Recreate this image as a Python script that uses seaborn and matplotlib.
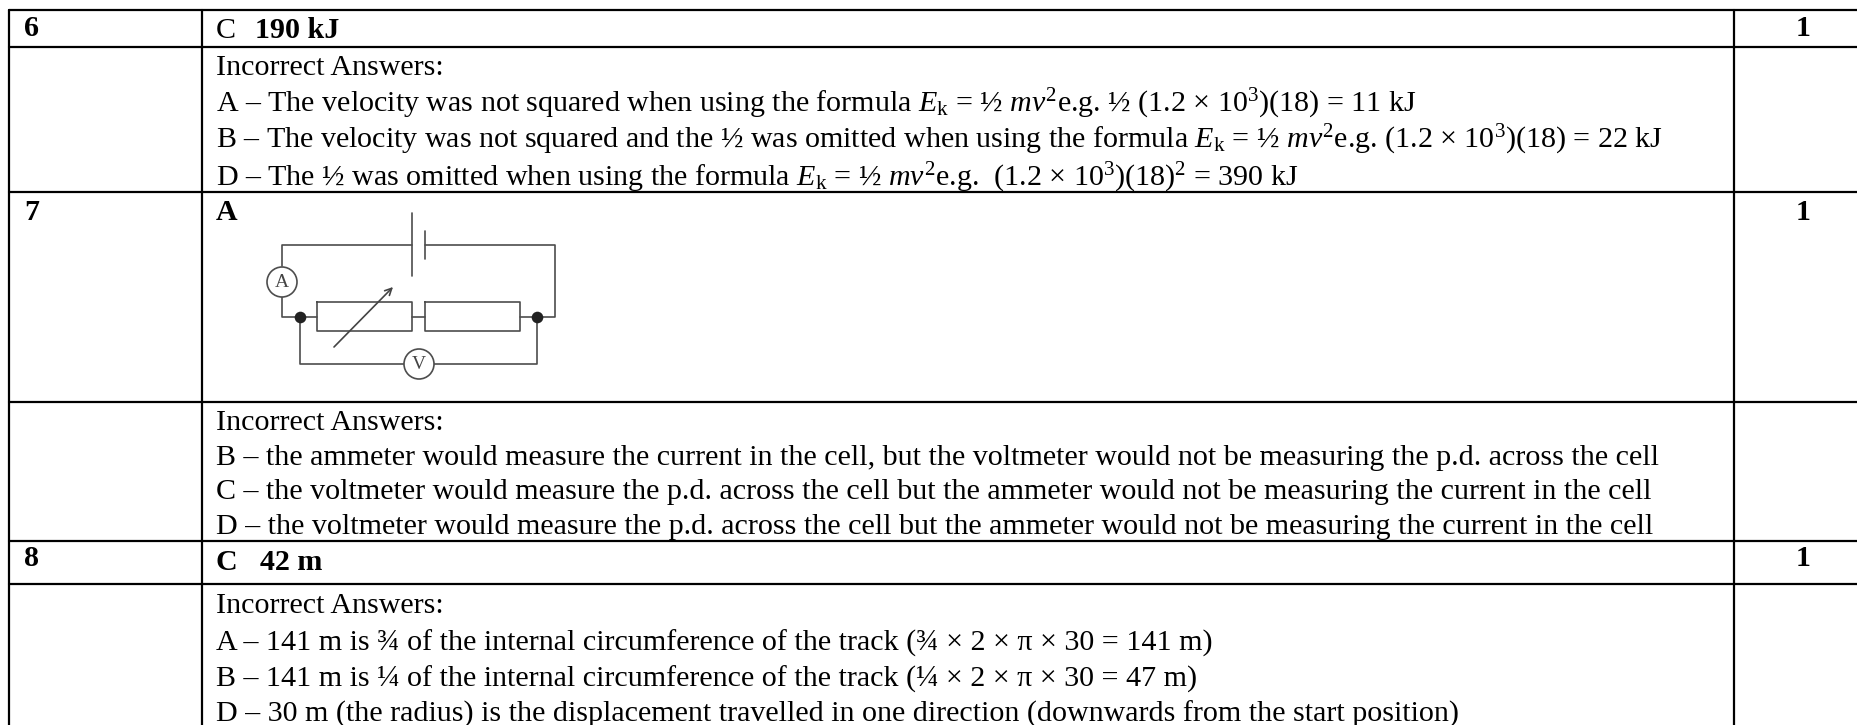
import pandas as pd
import seaborn as sns
import matplotlib.pyplot as plt
from matplotlib.patches import Circle

# table rules and text rows, all in image pixels
row_y = [10, 47, 192, 402, 541, 584]
col_x = [9, 202, 1734]
fig_w, fig_h = 1858, 725

question_labels = ['6', '7', '8']
question_y = [36, 220, 566]
mark_y = [36, 220, 566]
mark_labels = ['1', '1', '1']

E = r'$\mathit{E}_{\mathrm{k}}$'
answer_lines = [
    (38, 'C'),
    (75, 'Incorrect Answers:'),
    (112, 'A – The velocity was not squared when using the formula ' + E + r' = ½ $\mathit{mv}^{2}$e.g. ½ (1.2 × 10$^{3}$)(18) = 11 kJ'),
    (148, 'B – The velocity was not squared and the ½ was omitted when using the formula ' + E + r' = ½ $\mathit{mv}^{2}$e.g. (1.2 × 10$^{3}$)(18) = 22 kJ'),
    (186, 'D – The ½ was omitted when using the formula ' + E + r' = ½ $\mathit{mv}^{2}$e.g.  (1.2 × 10$^{3}$)(18)$^{2}$ = 390 kJ'),
    (430, 'Incorrect Answers:'),
    (465, 'B – the ammeter would measure the current in the cell, but the voltmeter would not be measuring the p.d. across the cell'),
    (499, 'C – the voltmeter would measure the p.d. across the cell but the ammeter would not be measuring the current in the cell'),
    (534, 'D – the voltmeter would measure the p.d. across the cell but the ammeter would not be measuring the current in the cell'),
    (613, 'Incorrect Answers:'),
    (651, 'A – 141 m is ¾ of the internal circumference of the track (¾ × 2 × π × 30 = 141 m)'),
    (687, 'B – 141 m is ¼ of the internal circumference of the track (¼ × 2 × π × 30 = 47 m)'),
    (722, 'D – 30 m (the radius) is the displacement travelled in one direction (downwards from the start position)'),
]
# the bold answers sit at their own x
bold_answers = [
    (255, 38, '190 kJ'),
    (216, 220, 'A'),
    (216, 570, 'C'),
    (260, 570, '42 m'),
]

# circuit wires: one list per wire
wire_x = [
    [282, 282, 412], [425, 555, 555, 520], [282, 282, 317], [412, 412], [425, 425],
    [317, 412, 412, 317, 317], [412, 425], [425, 520, 520, 425, 425],
    [300, 300, 404], [434, 537, 537],
]
wire_y = [
    [266, 245, 245], [245, 245, 317, 317], [297, 317, 317], [213, 276], [231, 259],
    [302, 302, 331, 331, 302], [317, 317], [302, 302, 331, 331, 302],
    [317, 364, 364], [364, 364, 317],
]

rule_rows = []
for i, y in enumerate(row_y):
    rule_rows.append(pd.DataFrame({'x': [col_x[0], fig_w], 'y': [y, y], 'rule': f'h{i}'}))
rows_top_bottom = [row_y[0], fig_h]
for i, x in enumerate(col_x):
    rule_rows.append(pd.DataFrame({'x': [x, x], 'y': rows_top_bottom, 'rule': f'v{i}'}))
rules = pd.concat(rule_rows)

wires = pd.concat(pd.DataFrame({'x': xs, 'y': ys, 'wire': i})
                  for i, (xs, ys) in enumerate(zip(wire_x, wire_y)))

sns.set_theme(style='white')
plt.rcParams['font.family'] = ['Liberation Serif', 'DejaVu Serif']
plt.rcParams['mathtext.fontset'] = 'custom'
plt.rcParams['mathtext.rm'] = 'Liberation Serif'
plt.rcParams['mathtext.it'] = 'Liberation Serif:italic'
plt.rcParams['mathtext.bf'] = 'Liberation Serif:bold'

fig = plt.figure(figsize=(fig_w / 100, fig_h / 100), dpi=100)
ax = fig.add_axes([0, 0, 1, 1])

sns.lineplot(data=rules, x='x', y='y', units='rule', estimator=None, sort=False,
             color='black', linewidth=1.6, ax=ax)
sns.lineplot(data=wires, x='x', y='y', units='wire', estimator=None, sort=False,
             color='#4d4d4d', linewidth=1.2, ax=ax)

# meters and junctions
ax.add_patch(Circle((282, 282), 15, fc='white', ec='#4d4d4d', lw=1.2, zorder=3))
ax.add_patch(Circle((419, 364), 15, fc='white', ec='#4d4d4d', lw=1.2, zorder=3))
ax.text(282, 282, 'A', ha='center', va='center', fontsize=14, color='#444444', zorder=4)
ax.text(419, 364, 'V', ha='center', va='center', fontsize=14, color='#444444', zorder=4)
sns.scatterplot(x=[300, 537], y=[317, 317], color='#222222', s=70, linewidth=0, ax=ax, zorder=4)
ax.annotate('', xy=(393, 287), xytext=(334, 347),
            arrowprops=dict(arrowstyle='->', color='#444444', lw=1.2, shrinkA=0, shrinkB=0))

font_size = 21.6
for y, label in answer_lines:
    ax.text(216, y, label, fontsize=font_size, va='baseline', color='black')
for x, y, label in bold_answers:
    ax.text(x, y, label, fontsize=font_size, fontweight='bold', va='baseline', color='black')
for y, label in zip(question_y, question_labels):
    ax.text(24, y, label, fontsize=font_size, fontweight='bold', va='baseline', color='black')
for y, label in zip(mark_y, mark_labels):
    ax.text(1803, y, label, fontsize=font_size, fontweight='bold', ha='center', va='baseline', color='black')

ax.set_xlim(0, fig_w)
ax.set_ylim(fig_h, 0)
ax.set_xlabel('')
ax.set_ylabel('')
ax.axis('off')

plt.savefig('out.png', dpi=100)
